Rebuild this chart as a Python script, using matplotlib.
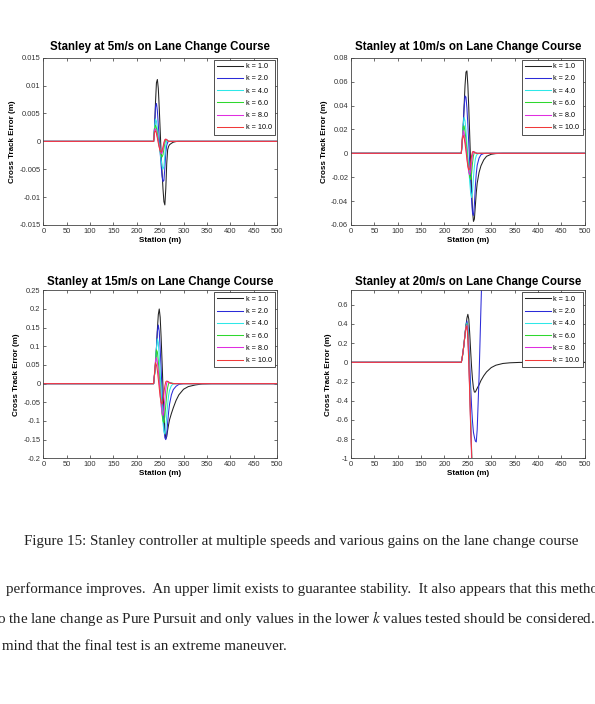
import numpy as np
import matplotlib
matplotlib.use('Agg')
import matplotlib.pyplot as plt
import matplotlib.ticker as ticker

plt.rcParams['font.family'] = ['Liberation Sans', 'DejaVu Sans']
plt.rcParams['mathtext.fontset'] = 'stix'

nan = np.nan

station = [0, 236, 238, 240, 242, 244, 246, 248, 250, 252, 254, 256, 258, 260, 262,
           264, 266, 268, 270, 274, 278, 284, 290, 300, 310, 325, 340, 360, 400, 500]

gain_labels = ['k = 1.0', 'k = 2.0', 'k = 4.0', 'k = 6.0', 'k = 8.0', 'k = 10.0']
line_colors = ['#222222', '#2b2bd8', '#2ee8e8', '#2ed82e', '#e02ee0', '#f03a3a']

# 5 m/s
cte5_k1 = [0, 0, .0025, .0070, .0105, .0111, .0095, .0060, .0020, -.0020, -.0055, -.0085, -.0108, -.0114, -.0085,
           -.0040, -.0015, -.0009, -.0006, -.00035, -.00015, -.00003, 0, 0, 0, 0, 0, 0, 0, 0]
cte5_k2 = [0, 0, .0025, .0062, .0068, .0055, .0030, .0005, -.0020, -.0043, -.0062, -.0072, -.0070, -.0048, -.0020,
           -.0007, -.0002, 0, 0, 0, 0, 0, 0, 0, 0, 0, 0, 0, 0, 0]
cte5_k4 = [0, 0, .0025, .0040, .0036, .0023, .0008, -.0006, -.0020, -.0033, -.0044, -.0050, -.0045, -.0025, -.0007,
           .0001, .0001, 0, 0, 0, 0, 0, 0, 0, 0, 0, 0, 0, 0, 0]
cte5_k6 = [0, 0, .0022, .0029, .0024, .0014, .0003, -.0008, -.0018, -.0025, -.0028, -.0024, -.0013, -.0003, .0003,
           .0003, .0001, 0, 0, 0, 0, 0, 0, 0, 0, 0, 0, 0, 0, 0]
cte5_k8 = [0, 0, .0020, .0023, .0017, .0009, 0, -.0009, -.0017, -.0022, -.0021, -.0014, -.0005, .0002, .0004,
           .0003, .0001, 0, 0, 0, 0, 0, 0, 0, 0, 0, 0, 0, 0, 0]
cte5_k10 = [0, 0, .0017, .0019, .0014, .0006, -.0003, -.0011, -.0017, -.0019, -.0017, -.0010, -.0002, .0003, .0004,
            .0003, .00015, 0, 0, 0, 0, 0, 0, 0, 0, 0, 0, 0, 0, 0]

# 10 m/s
cte10_k1 = [0, 0, .009, .022, .040, .057, .068, .069, .057, .038, .015, -.008, -.030, -.048, -.057,
            -.055, -.044, -.033, -.025, -.016, -.0105, -.0055, -.0025, -.0008, -.0002, 0, 0, 0, 0, 0]
cte10_k2 = [0, 0, .009, .022, .038, .048, .047, .038, .024, .008, -.008, -.024, -.039, -.050, -.052,
            -.043, -.028, -.017, -.010, -.004, -.0012, -.0002, 0, 0, 0, 0, 0, 0, 0, 0]
cte10_k4 = [0, 0, .010, .024, .030, .027, .019, .009, -.002, -.013, -.024, -.033, -.037, -.032, -.020,
            -.011, -.005, -.002, -.0008, -.0001, 0, 0, 0, 0, 0, 0, 0, 0, 0, 0]
cte10_k6 = [0, 0, .012, .022, .023, .018, .011, .003, -.006, -.014, -.020, -.022, -.017, -.008, -.002,
            .0008, .0008, .0003, 0, 0, 0, 0, 0, 0, 0, 0, 0, 0, 0, 0]
cte10_k8 = [0, 0, .012, .019, .017, .012, .005, -.003, -.010, -.016, -.018, -.015, -.008, -.0015, .0012,
            .0012, .0005, .0001, 0, 0, 0, 0, 0, 0, 0, 0, 0, 0, 0, 0]
cte10_k10 = [0, 0, .011, .015, .013, .008, .002, -.005, -.011, -.014, -.013, -.008, -.002, .0013, .0015,
             .0008, .0003, 0, 0, 0, 0, 0, 0, 0, 0, 0, 0, 0, 0, 0]

# 15 m/s
cte15_k1 = [0, 0, .025, .052, .095, .145, .185, .200, .178, .125, .060, -.010, -.075, -.125, -.148,
            -.142, -.125, -.110, -.097, -.080, -.065, -.045, -.030, -.015, -.008, -.0035, -.0008, 0, 0, 0]
cte15_k2 = [0, 0, .025, .052, .095, .140, .157, .140, .095, .040, -.020, -.075, -.120, -.145, -.150,
            -.135, -.105, -.077, -.055, -.030, -.016, -.007, -.002, 0, 0, 0, 0, 0, 0, 0]
cte15_k4 = [0, 0, .025, .055, .095, .120, .110, .075, .030, -.020, -.065, -.105, -.128, -.135, -.118,
            -.085, -.055, -.032, -.018, -.005, -.001, 0, 0, 0, 0, 0, 0, 0, 0, 0]
cte15_k6 = [0, 0, .025, .058, .090, .085, .060, .025, -.012, -.050, -.082, -.100, -.105, -.088, -.058,
            -.030, -.010, 0, .003, .002, .0005, 0, 0, 0, 0, 0, 0, 0, 0, 0]
cte15_k8 = [0, 0, .028, .062, .070, .058, .035, .005, -.028, -.058, -.080, -.085, -.070, -.042, -.015,
            .002, .006, .005, .003, .001, 0, 0, 0, 0, 0, 0, 0, 0, 0, 0]
cte15_k10 = [0, 0, .030, .056, .050, .035, .012, -.012, -.035, -.050, -.055, -.045, -.025, -.006, .005,
             .007, .006, .004, .002, .0005, 0, 0, 0, 0, 0, 0, 0, 0, 0, 0]

# 20 m/s (higher gains go unstable and leave the plot)
cte20_k1 = [0, 0, .05, .12, .20, .29, .38, .46, .50, .45, .30, .12, -.05, -.18, -.27,
            -.31, -.31, -.29, -.27, -.235, -.19, -.14, -.10, -.055, -.03, -.012, -.005, -.001, 0, 0]
cte20_k2 = [0, 0, .05, .12, .20, .30, .39, .43, .38, .20, -.02, -.25, -.46, -.62, -.73,
            -.78, -.82, -.83, -.70, -.15, .57, 1.6, nan, nan, nan, nan, nan, nan, nan, nan]
cte20_k4 = [0, 0, .05, .12, .20, .30, .38, .41, .33, .10, -.20, -.55, -.90, -1.25, -1.6,
            nan, nan, nan, nan, nan, nan, nan, nan, nan, nan, nan, nan, nan, nan, nan]
cte20_k6 = [0, 0, .05, .12, .20, .30, .38, .40, .30, .05, -.28, -.62, -.95, -1.3, -1.65,
            nan, nan, nan, nan, nan, nan, nan, nan, nan, nan, nan, nan, nan, nan, nan]
cte20_k8 = [0, 0, .05, .12, .20, .30, .37, .39, .28, .02, -.30, -.65, -1.0, -1.35, -1.7,
            nan, nan, nan, nan, nan, nan, nan, nan, nan, nan, nan, nan, nan, nan, nan]
cte20_k10 = [0, 0, .05, .12, .20, .29, .36, .38, .25, 0, -.33, -.68, -.92, -1.3, -1.7,
             nan, nan, nan, nan, nan, nan, nan, nan, nan, nan, nan, nan, nan, nan, nan]

speeds = ['5m/s', '10m/s', '15m/s', '20m/s']
curves = [
    [cte5_k1, cte5_k2, cte5_k4, cte5_k6, cte5_k8, cte5_k10],
    [cte10_k1, cte10_k2, cte10_k4, cte10_k6, cte10_k8, cte10_k10],
    [cte15_k1, cte15_k2, cte15_k4, cte15_k6, cte15_k8, cte15_k10],
    [cte20_k1, cte20_k2, cte20_k4, cte20_k6, cte20_k8, cte20_k10],
]
ylims = [(-0.015, 0.015), (-0.06, 0.08), (-0.2, 0.25), (-1, 0.75)]
yticks = [
    [-0.015, -0.01, -0.005, 0, 0.005, 0.01, 0.015],
    [-0.06, -0.04, -0.02, 0, 0.02, 0.04, 0.06, 0.08],
    [-0.2, -0.15, -0.1, -0.05, 0, 0.05, 0.1, 0.15, 0.2, 0.25],
    [-1, -0.8, -0.6, -0.4, -0.2, 0, 0.2, 0.4, 0.6],
]
xticks = [0, 50, 100, 150, 200, 250, 300, 350, 400, 450, 500]

# axes boxes in figure fractions, measured from the page
boxes = [
    [0.0728, 0.6804, 0.3928, 0.2376],
    [0.5899, 0.6804, 0.3928, 0.2376],
    [0.0728, 0.3490, 0.3928, 0.2386],
    [0.5899, 0.3490, 0.3928, 0.2386],
]
title_pads = [5.5, 5.5, 4.0, 4.0]

fig = plt.figure(figsize=(5.95, 7.04), dpi=100)

for i in range(4):
    ax = fig.add_axes(boxes[i])
    for j in range(6):
        ax.plot(station, curves[i][j], color=line_colors[j], linewidth=0.75, label=gain_labels[j])
    ax.set_xlim(0, 500)
    ax.set_ylim(*ylims[i])
    ax.set_xticks(xticks)
    ax.set_yticks(yticks[i])
    ax.yaxis.set_major_formatter(ticker.FuncFormatter(lambda v, p: '%g' % round(v, 4)))
    ax.tick_params(direction='in', length=2.5, width=0.5, labelsize=5.4, colors='#333333',
                   top=True, right=True, pad=2)
    for sp in ax.spines.values():
        sp.set_linewidth(0.6)
        sp.set_color('#444444')
    ax.set_title('Stanley at %s on Lane Change Course' % speeds[i], fontsize=8.3,
                 fontweight='bold', pad=title_pads[i])
    ax.set_xlabel('Station (m)', fontsize=5.8, fontweight='bold', labelpad=1.5)
    ax.set_ylabel('Cross Track Error (m)', fontsize=5.8, fontweight='bold', labelpad=2.5)
    leg = ax.legend(loc='upper right', fontsize=5.2, frameon=True, fancybox=False,
                    edgecolor='#333333', framealpha=1, borderaxespad=0.3, handlelength=3.6,
                    handletextpad=0.3, labelspacing=0.72, borderpad=0.45)
    leg.get_frame().set_linewidth(0.6)

# caption and surrounding page text (the page is cut at both sides)
serif = ['Liberation Serif', 'DejaVu Serif']
fig.text(301 / 595, 1 - 541.7 / 704,
         'Figure 15: Stanley controller at multiple speeds and various gains on the lane change course',
         ha='center', va='center', family=serif, fontsize=10.8, color='#222222')
fig.text(6.5 / 595, 1 - 589.3 / 704,
         'performance improves.  An upper limit exists to guarantee stability.  It also appears that this method',
         ha='left', va='center', family=serif, fontsize=10.8, color='#222222')
fig.text(-7 / 595, 1 - 618.3 / 704,
         'to the lane change as Pure Pursuit and only values in the lower $k$ values tested should be considered.',
         ha='left', va='center', family=serif, fontsize=10.8, color='#222222')
fig.text(1.7 / 595, 1 - 646.7 / 704,
         'mind that the final test is an extreme maneuver.',
         ha='left', va='center', family=serif, fontsize=10.8, color='#222222')

plt.savefig('out.png', dpi=100)
